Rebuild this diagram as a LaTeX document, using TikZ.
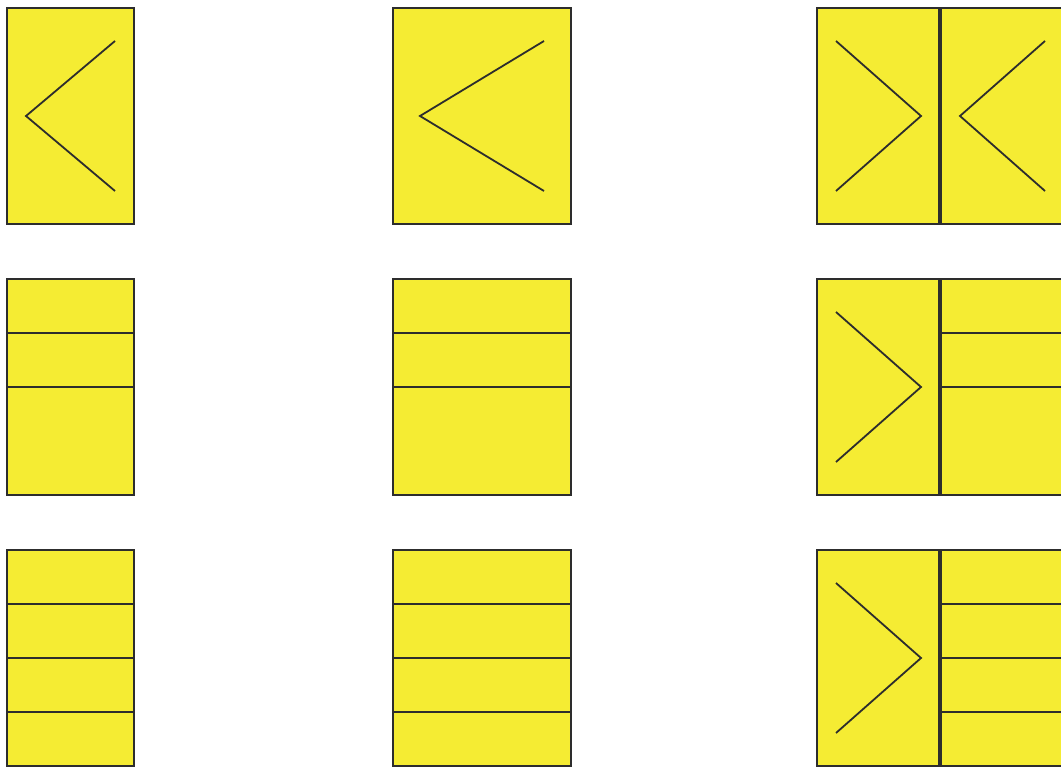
\documentclass[tikz,border=0pt]{standalone}
\usepackage{tikz}
\definecolor{panel}{RGB}{245,236,51}
\definecolor{edge}{RGB}{45,45,45}
\tikzset{
  panelbox/.style={fill=panel,draw=edge,line width=2pt},
  rule/.style={draw=edge,line width=2pt},
  divider/.style={draw=edge,line width=4pt},
  chevron/.style={draw=edge,line width=1.8pt,line join=miter}
}
\begin{document}
\begin{tikzpicture}[x=1pt,y=-1pt]
\useasboundingbox (0,0) rectangle (1061,767);
\begin{scope}
\clip (0,0) rectangle (1061,767);
% column 1
\draw[panelbox] (7,8) rectangle (134,224);
\draw[chevron] (115,41) -- (26,116) -- (115,191);
\draw[panelbox] (7,279) rectangle (134,495);
\draw[rule] (7,333) -- (134,333);
\draw[rule] (7,387) -- (134,387);
\draw[panelbox] (7,550) rectangle (134,766);
\draw[rule] (7,604) -- (134,604);
\draw[rule] (7,658) -- (134,658);
\draw[rule] (7,712) -- (134,712);
% column 2
\draw[panelbox] (393,8) rectangle (571,224);
\draw[chevron] (544,41) -- (420,116) -- (544,191);
\draw[panelbox] (393,279) rectangle (571,495);
\draw[rule] (393,333) -- (571,333);
\draw[rule] (393,387) -- (571,387);
\draw[panelbox] (393,550) rectangle (571,766);
\draw[rule] (393,604) -- (571,604);
\draw[rule] (393,658) -- (571,658);
\draw[rule] (393,712) -- (571,712);
% column 3
\draw[panelbox] (817,8) rectangle (1070,224);
\draw[divider] (940,8) -- (940,224);
\draw[chevron] (836,41) -- (921,116) -- (836,191);
\draw[chevron] (1045,41) -- (960,116) -- (1045,191);
\draw[panelbox] (817,279) rectangle (1070,495);
\draw[divider] (940,279) -- (940,495);
\draw[chevron] (836,312) -- (921,387) -- (836,462);
\draw[rule] (940,333) -- (1070,333);
\draw[rule] (940,387) -- (1070,387);
\draw[panelbox] (817,550) rectangle (1070,766);
\draw[divider] (940,550) -- (940,766);
\draw[chevron] (836,583) -- (921,658) -- (836,733);
\draw[rule] (940,604) -- (1070,604);
\draw[rule] (940,658) -- (1070,658);
\draw[rule] (940,712) -- (1070,712);
\end{scope}
\end{tikzpicture}
\end{document}
